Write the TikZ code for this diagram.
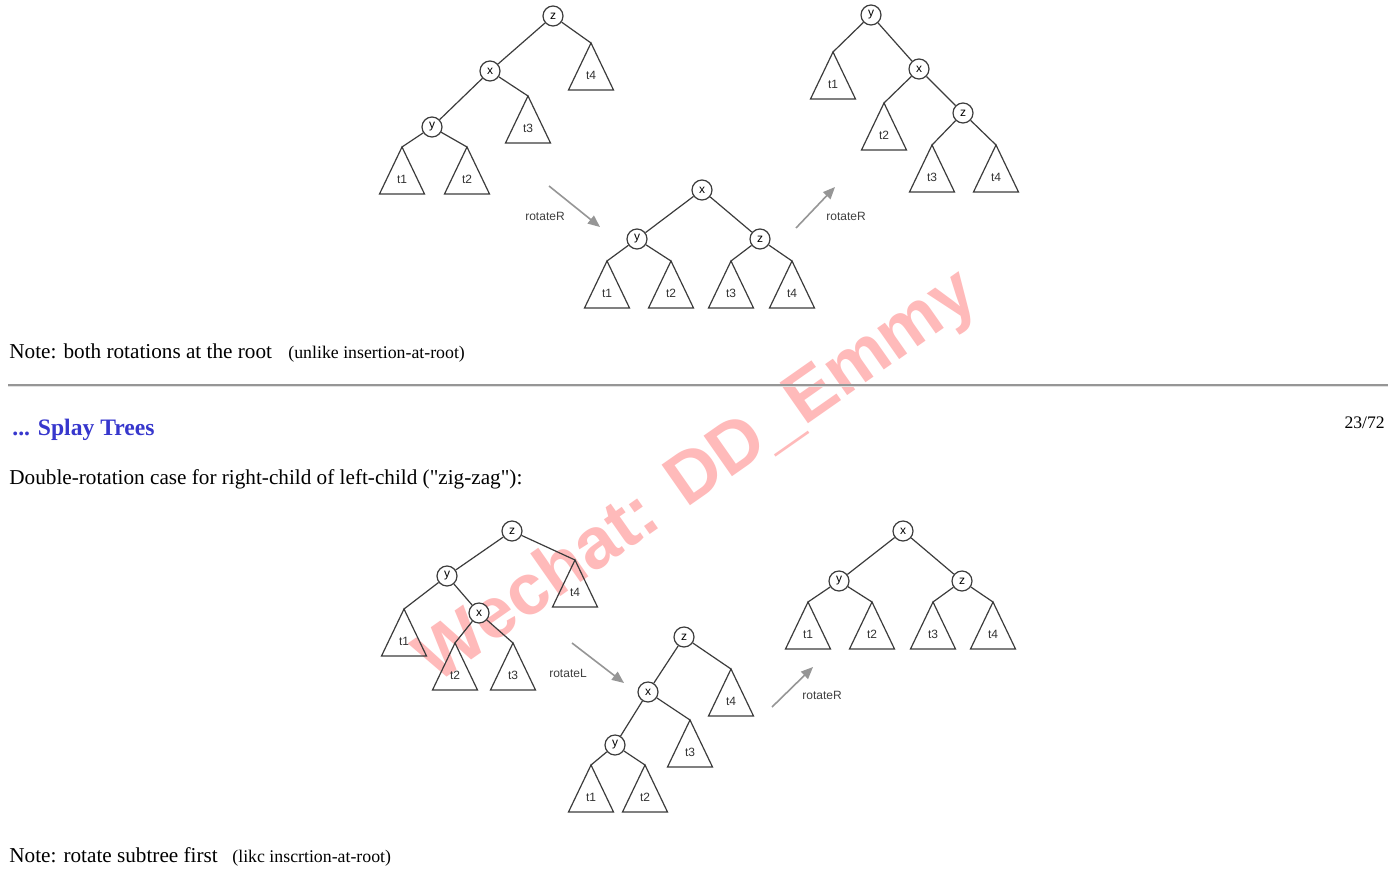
\documentclass[tikz,border=0pt]{standalone}
\usepackage{fontspec}
\setmainfont{Liberation Serif}
\newfontfamily\helv{Liberation Sans}
\usetikzlibrary{arrows.meta}
\definecolor{treeline}{RGB}{60,60,60}
\definecolor{arrowgray}{RGB}{150,150,150}
\definecolor{headblue}{RGB}{55,55,205}
\definecolor{wmark}{RGB}{255,186,186}
\definecolor{rulegray}{RGB}{150,150,150}
\definecolor{rulelight}{RGB}{225,225,225}
\newcommand{\dq}{\XeTeXglyph\XeTeXcharglyph"22\relax}
\newcommand{\subtree}[4]{%
  \coordinate (#1) at (#2,#3);
  \draw[tri] (#1) -- ++(-22.5,47) -- ++(45,0) -- cycle;
  \node[tlabel] (#1l) at (#2,#3+32) {#4};
}
\begin{document}
\begin{tikzpicture}[x=0.5pt,y=-0.5pt,
  tnode/.style={circle,draw=treeline,line width=0.6pt,minimum size=10pt,inner sep=0pt,fill=white,font=\helv\fontsize{6}{7}\selectfont},
  edge/.style={draw=treeline,line width=0.6pt},
  tri/.style={draw=treeline,line width=0.6pt},
  tlabel/.style={font=\helv\fontsize{6}{7}\selectfont,inner sep=0pt,text=black!80},
  rot/.style={draw=arrowgray,line width=0.8pt,-{Triangle[length=6pt,width=5pt]}},
  rotlabel/.style={font=\helv\fontsize{6}{7}\selectfont,inner sep=0pt,text=black!75},
  body/.style={anchor=base west,inner sep=0pt,font=\fontsize{10.6}{12.5}\selectfont},
  small/.style={anchor=base west,inner sep=0pt,font=\fontsize{8.9}{10}\selectfont}
]
\fill[white] (0,0) rectangle (1397,873);
\useasboundingbox (0,0) rectangle (1397,873);

% watermark
\node[rotate=35,inner sep=0pt,text=wmark,font=\helv\bfseries\fontsize{36}{40}\selectfont] (wm) at (698,478) {Wechat: DD\_Emmy};

% ---------- top-left tree ----------
\node[tnode] (Az) at (553,16) {z};
\node[tnode] (Ax) at (490,71) {x};
\node[tnode] (Ay) at (432,127) {y};
\subtree{A4}{591}{43}{t4}
\subtree{A3}{528}{96}{t3}
\subtree{A1}{402}{147}{t1}
\subtree{A2}{467}{147}{t2}
\draw[edge] (Az) -- (Ax);
\draw[edge] (Az) -- (A4);
\draw[edge] (Ax) -- (Ay);
\draw[edge] (Ax) -- (A3);
\draw[edge] (Ay) -- (A1);
\draw[edge] (Ay) -- (A2);

% ---------- top-middle tree ----------
\node[tnode] (Bx) at (702,190) {x};
\node[tnode] (By) at (637,239) {y};
\node[tnode] (Bz) at (760,239) {z};
\subtree{B1}{607}{261}{t1}
\subtree{B2}{671}{261}{t2}
\subtree{B3}{731}{261}{t3}
\subtree{B4}{792}{261}{t4}
\draw[edge] (Bx) -- (By);
\draw[edge] (Bx) -- (Bz);
\draw[edge] (By) -- (B1);
\draw[edge] (By) -- (B2);
\draw[edge] (Bz) -- (B3);
\draw[edge] (Bz) -- (B4);

% ---------- top-right tree ----------
\node[tnode] (Cy) at (871,15) {y};
\node[tnode] (Cx) at (919,69) {x};
\node[tnode] (Cz) at (963,113) {z};
\subtree{C1}{833}{52}{t1}
\subtree{C2}{884}{103}{t2}
\subtree{C3}{932}{145}{t3}
\subtree{C4}{996}{145}{t4}
\draw[edge] (Cy) -- (C1);
\draw[edge] (Cy) -- (Cx);
\draw[edge] (Cx) -- (C2);
\draw[edge] (Cx) -- (Cz);
\draw[edge] (Cz) -- (C3);
\draw[edge] (Cz) -- (C4);

% top arrows
\coordinate (ar1s) at (549,186); \coordinate (ar1e) at (600,227);
\draw[rot] (ar1s) -- (ar1e);
\node[rotlabel] (lab1) at (545,216) {rotateR};
\coordinate (ar2s) at (796,228); \coordinate (ar2e) at (835,187);
\draw[rot] (ar2s) -- (ar2e);
\node[rotlabel] (lab2) at (846,216) {rotateR};

% ---------- texts ----------
\node[body] (note1) at (9,358) {Note: both rotations at the root};
\node[small] (note1b) at (288,358) {(unlike insertion-at-root)};
\fill[rulegray] (8,384) rectangle (1388,385.5);
\fill[rulelight] (8,385.5) rectangle (1388,387);
\node[anchor=base west,inner sep=0pt,text=headblue,font=\bfseries\fontsize{11.8}{14}\selectfont] (head) at (12,435) {... Splay Trees};
\node[anchor=base east,inner sep=0pt,font=\fontsize{8.8}{10}\selectfont] (page) at (1385,428) {23/72};
\node[body] (desc) at (9,484) {Double-rotation case for right-child of left-child (\dq zig-zag\dq):};
\node[body] (note2) at (9,862) {Note: rotate subtree first};
\node[small] (note2b) at (232,862) {(likc inscrtion-at-root)};

% ---------- bottom-left tree ----------
\node[tnode] (Dz) at (512,531) {z};
\node[tnode] (Dy) at (447,576) {y};
\node[tnode] (Dx) at (479,613) {x};
\subtree{D4}{575}{560}{t4}
\subtree{D1}{404}{609}{t1}
\subtree{D2}{455}{643}{t2}
\subtree{D3}{513}{643}{t3}
\draw[edge] (Dz) -- (Dy);
\draw[edge] (Dz) -- (D4);
\draw[edge] (Dy) -- (D1);
\draw[edge] (Dy) -- (Dx);
\draw[edge] (Dx) -- (D2);
\draw[edge] (Dx) -- (D3);

% ---------- bottom-middle tree ----------
\node[tnode] (Ez) at (684,637) {z};
\node[tnode] (Ex) at (648,692) {x};
\node[tnode] (Ey) at (615,745) {y};
\subtree{E4}{731}{669}{t4}
\subtree{E3}{690}{720}{t3}
\subtree{E1}{591}{765}{t1}
\subtree{E2}{645}{765}{t2}
\draw[edge] (Ez) -- (Ex);
\draw[edge] (Ez) -- (E4);
\draw[edge] (Ex) -- (Ey);
\draw[edge] (Ex) -- (E3);
\draw[edge] (Ey) -- (E1);
\draw[edge] (Ey) -- (E2);

% ---------- bottom-right tree ----------
\node[tnode] (Fx) at (903,531) {x};
\node[tnode] (Fy) at (839,581) {y};
\node[tnode] (Fz) at (962,581) {z};
\subtree{F1}{808}{602}{t1}
\subtree{F2}{872}{602}{t2}
\subtree{F3}{933}{602}{t3}
\subtree{F4}{993}{602}{t4}
\draw[edge] (Fx) -- (Fy);
\draw[edge] (Fx) -- (Fz);
\draw[edge] (Fy) -- (F1);
\draw[edge] (Fy) -- (F2);
\draw[edge] (Fz) -- (F3);
\draw[edge] (Fz) -- (F4);

% bottom arrows
\coordinate (ar3s) at (572,643); \coordinate (ar3e) at (624,683);
\draw[rot] (ar3s) -- (ar3e);
\node[rotlabel] (lab3) at (568,673) {rotateL};
\coordinate (ar4s) at (772,707); \coordinate (ar4e) at (813,667);
\draw[rot] (ar4s) -- (ar4e);
\node[rotlabel] (lab4) at (822,695) {rotateR};
\end{tikzpicture}
\end{document}
